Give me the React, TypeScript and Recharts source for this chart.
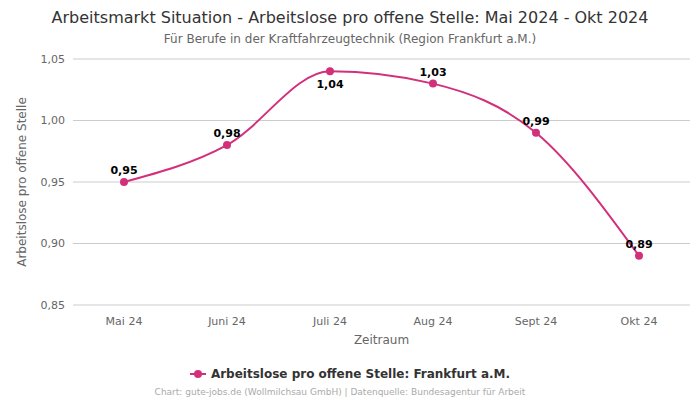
import React from 'react';
import { LineChart, Line, XAxis, YAxis, CartesianGrid, LabelList } from 'recharts';

const months = ['Mai 24', 'Juni 24', 'Juli 24', 'Aug 24', 'Sept 24', 'Okt 24'];
const ratio = [0.95, 0.98, 1.04, 1.03, 0.99, 0.89];
const labelBelow = [false, false, true, false, false, false];
const yTicks = [0.85, 0.9, 0.95, 1.0, 1.05];

const lineColor = '#d3307c';
const font = '"DejaVu Sans", sans-serif';

const data = months.map((m, i) => ({ month: m, value: ratio[i] }));

const fmt = (v: number) => v.toFixed(2).replace('.', ',');

const PointLabel = (props: any) => {
  const { x, y, value, index } = props;
  const below = labelBelow[index];
  return (
    <text
      x={x}
      y={below ? y + 17 : y - 8}
      textAnchor="middle"
      fontSize={11}
      fontWeight="bold"
      fill="#000"
      fontFamily={font}
    >
      {fmt(value)}
    </text>
  );
};

const App: React.FC = () => {
  return (
    <div style={{ position: 'absolute', left: 0, top: 0, width: 700, height: 400, background: '#fff', fontFamily: font }}>
      <div style={{ position: 'absolute', top: 8, width: 700, textAlign: 'center', fontSize: 16, color: '#333' }}>
        Arbeitsmarkt Situation - Arbeitslose pro offene Stelle: Mai 2024 - Okt 2024
      </div>
      <div style={{ position: 'absolute', top: 32, width: 700, textAlign: 'center', fontSize: 12, color: '#666' }}>
        Für Berufe in der Kraftfahrzeugtechnik (Region Frankfurt a.M.)
      </div>
      <LineChart width={700} height={400} data={data} margin={{ top: 59, right: 10, bottom: 50, left: 13 }}>
        <CartesianGrid vertical={false} stroke="#ccc" />
        <XAxis
          dataKey="month"
          padding={{ left: 51, right: 51 }}
          axisLine={false}
          tickLine={false}
          height={45}
          tick={{ fontSize: 11, fill: '#666', fontFamily: font }}
          tickMargin={6}
          label={{ value: 'Zeitraum', position: 'insideBottom', offset: 6, fontSize: 12, fill: '#666', fontFamily: font }}
        />
        <YAxis
          domain={[0.85, 1.05]}
          ticks={yTicks}
          tickFormatter={fmt}
          axisLine={false}
          tickLine={false}
          width={60}
          tick={{ fontSize: 11, fill: '#666', fontFamily: font }}
          label={{ value: 'Arbeitslose pro offene Stelle', angle: -90, position: 'insideLeft', offset: 9, style: { textAnchor: 'middle' }, fontSize: 12, fill: '#666', fontFamily: font }}
        />
        <Line
          type="monotoneX"
          dataKey="value"
          stroke={lineColor}
          strokeWidth={2}
          dot={{ r: 4, fill: lineColor, stroke: lineColor, strokeWidth: 0 }}
          activeDot={false}
          isAnimationActive={false}
        >
          <LabelList dataKey="value" content={<PointLabel />} />
        </Line>
      </LineChart>
      <div style={{ position: 'absolute', top: 367, width: 700, display: 'flex', justifyContent: 'center', alignItems: 'center', fontSize: 12, fontWeight: 'bold', color: '#333' }}>
        <svg width={16} height={10} style={{ marginRight: 5 }}>
          <line x1={0} y1={5} x2={16} y2={5} stroke={lineColor} strokeWidth={2} />
          <circle cx={8} cy={5} r={4} fill={lineColor} />
        </svg>
        Arbeitslose pro offene Stelle: Frankfurt a.M.
      </div>
      <div style={{ position: 'absolute', top: 387, left: -10, width: 700, textAlign: 'center', fontSize: 9, color: '#aaa' }}>
        Chart: gute-jobs.de (Wollmilchsau GmbH) | Datenquelle: Bundesagentur für Arbeit
      </div>
    </div>
  );
};

export default App;
